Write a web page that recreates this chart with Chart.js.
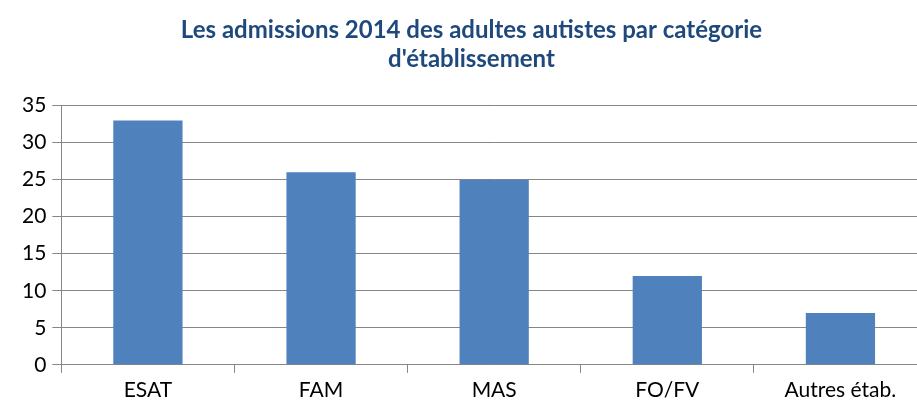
<!DOCTYPE html>
<html lang="fr">
<head>
  <meta charset="UTF-8" />
  <title>Admissions 2014</title>
  <style>
    html, body { margin: 0; padding: 0; overflow: hidden; background: #fff; }
  </style>
</head>
<body>
  <div style="width: 932px; height: 408px;">
    <canvas id="myChart"></canvas>
  </div>

  <script src="https://cdn.jsdelivr.net/npm/chart.js"></script>
  <script>
    const categories = ['ESAT', 'FAM', 'MAS', 'FO/FV', 'Autres étab.'];
    const admissions = [33, 26, 25, 12, 7];
    const titleLines = ['Les admissions 2014 des adultes autistes par catégorie', "d'établissement"];

    const ctx = document.getElementById('myChart').getContext('2d');
    const myChart = new Chart(ctx, {
      type: 'bar',
      data: {
        labels: categories,
        datasets: [{
          label: 'Admissions',
          data: admissions,
          backgroundColor: '#4F81BD',
          borderWidth: 0,
          categoryPercentage: 1,
          barPercentage: 0.4
        }]
      },
      options: {
        responsive: true,
        maintainAspectRatio: false,
        animation: false,
        layout: { padding: { top: 16, left: 16, right: 5, bottom: 0 } },
        plugins: {
          legend: { display: false },
          tooltip: { enabled: false },
          title: {
            display: true,
            text: titleLines,
            color: '#1F497D',
            font: { family: 'Lato', size: 24, weight: 'bold' },
            lineHeight: 1.3,
            padding: { top: 0, bottom: 32 }
          }
        },
        scales: {
          y: {
            min: 0,
            max: 35,
            ticks: {
              stepSize: 5,
              color: '#000',
              font: { family: 'Lato', size: 21 },
              padding: 6
            },
            grid: { color: '#868686', tickLength: 9, lineWidth: 1 },
            border: { color: '#868686' }
          },
          x: {
            ticks: {
              color: '#000',
              font: { family: 'Lato', size: 21 },
              padding: 5
            },
            grid: { drawOnChartArea: false, color: '#868686', tickLength: 8, offset: true },
            border: { color: '#868686' }
          }
        }
      }
    });
  </script>
</body>
</html>
